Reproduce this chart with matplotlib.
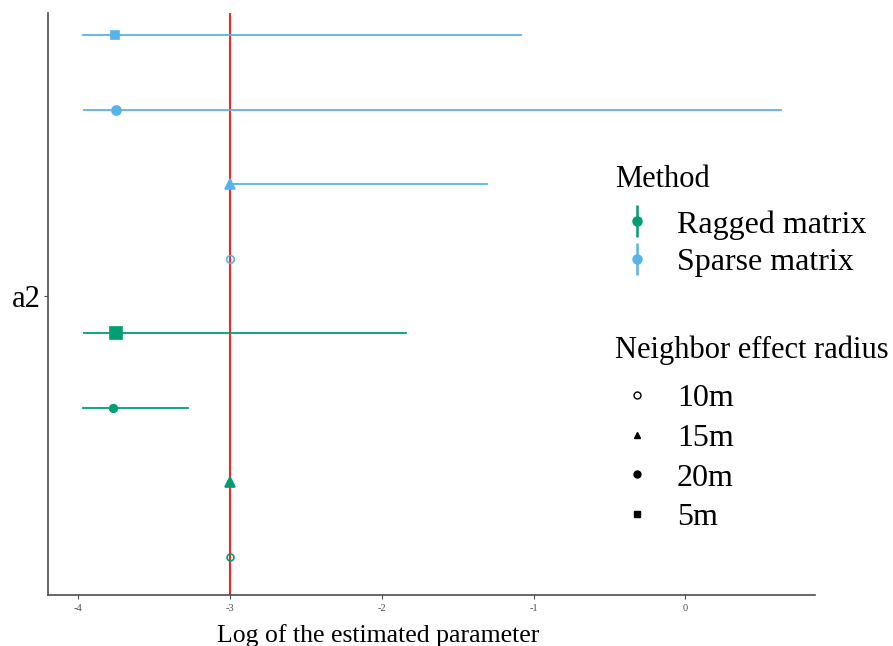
import matplotlib
matplotlib.use("Agg")
import matplotlib.pyplot as plt
from matplotlib.lines import Line2D
from matplotlib.legend_handler import HandlerTuple

plt.rcParams['font.family'] = ['Liberation Serif', 'DejaVu Serif']

# estimates, top row first
methods = ["Sparse matrix", "Sparse matrix", "Sparse matrix", "Sparse matrix",
           "Ragged matrix", "Ragged matrix", "Ragged matrix", "Ragged matrix"]
radius = ["5m", "20m", "15m", "10m", "5m", "20m", "15m", "10m"]
estimate = [-3.76, -3.75, -3.0, -3.0, -3.75, -3.77, -3.0, -3.0]
lower = [-3.97, -3.96, -3.0, -3.0, -3.96, -3.97, -3.0, -3.0]
upper = [-1.08, 0.63, -1.31, -3.0, -1.84, -3.28, -3.0, -3.0]
true_value = -3.0

colors = {"Ragged matrix": "#009E73", "Sparse matrix": "#56B4E9"}
markers = {"10m": "o", "15m": "^", "20m": "o", "5m": "s"}
filled = {"10m": False, "15m": True, "20m": True, "5m": True}
msizes = [6.0, 6.5, 7.5, 5.5, 8.5, 5.5, 6.5, 5.0]

fig = plt.figure(figsize=(8.93, 6.46), dpi=100)
ax = fig.add_axes([0.0538, 0.0789, 0.859, 0.901])

n = len(estimate)
ypos = [n - i for i in range(n)]

ax.axvline(true_value, color="#FF2020", lw=1.5, zorder=1)

for i in range(n):
    c = colors[methods[i]]
    ax.plot([lower[i], upper[i]], [ypos[i], ypos[i]], color=c, lw=1.3, zorder=2)
    ax.plot(estimate[i], ypos[i], marker=markers[radius[i]], ms=msizes[i],
            color=c, mfc=c if filled[radius[i]] else "none", mew=1.2, zorder=3)

ax.set_xlim(-4.2, 0.855)
ax.set_ylim(0.49, 8.3)
ax.set_xticks([-4, -3, -2, -1, 0])
ax.set_xticklabels(["-4", "-3", "-2", "-1", "0"], fontsize=7.5, color="#4D4D4D")
ax.set_yticks([4.5])
ax.set_yticklabels(["a2"], fontsize=22)
ax.tick_params(length=3, color="#4D4D4D", width=0.8)
ax.tick_params(axis="y", pad=2)
for s in ["top", "right"]:
    ax.spines[s].set_visible(False)
for s in ["left", "bottom"]:
    ax.spines[s].set_color("#4D4D4D")
    ax.spines[s].set_linewidth(1.2)
ax.set_xlabel("Log of the estimated parameter", fontsize=18.5)
ax.xaxis.set_label_coords(0.43, -0.049)

# legend titles drawn as plain text
W, H = 893, 646
fig.text(615 / W, 1 - 187 / H, "Method", fontsize=22, va="baseline", ha="left")
fig.text(615 / W, 1 - 358 / H, "Neighbor effect radius", fontsize=22, va="baseline", ha="left")

# Method legend
method_names = ["Ragged matrix", "Sparse matrix"]
method_handles = []
for m in method_names:
    method_handles.append((Line2D([], [], ls="none", marker="|", ms=23, mew=1.8, color=colors[m]),
                           Line2D([], [], ls="none", marker="o", ms=6.5, color=colors[m])))
leg1 = fig.legend(method_handles, method_names,
                  handler_map={tuple: HandlerTuple(ndivide=1, pad=0)},
                  loc="upper left", bbox_to_anchor=(621 / W, 1 - 210 / H), frameon=False,
                  fontsize=23, borderpad=0, borderaxespad=0, handlelength=1.0,
                  handletextpad=0.75, labelspacing=0.25)

rad_labels = ["10m", "15m", "20m", "5m"]
rad_handles = [Line2D([], [], ls="none", marker=markers[r], ms=5, color="black",
                      mfc="black" if filled[r] else "none", mew=1.0) for r in rad_labels]
leg2 = fig.legend(rad_handles, rad_labels,
                  loc="upper left", bbox_to_anchor=(621 / W, 1 - 384 / H), frameon=False,
                  fontsize=23, borderpad=0, borderaxespad=0, handlelength=1.0,
                  handletextpad=0.75, labelspacing=0.32)

fig.savefig("out.png", dpi=100)
